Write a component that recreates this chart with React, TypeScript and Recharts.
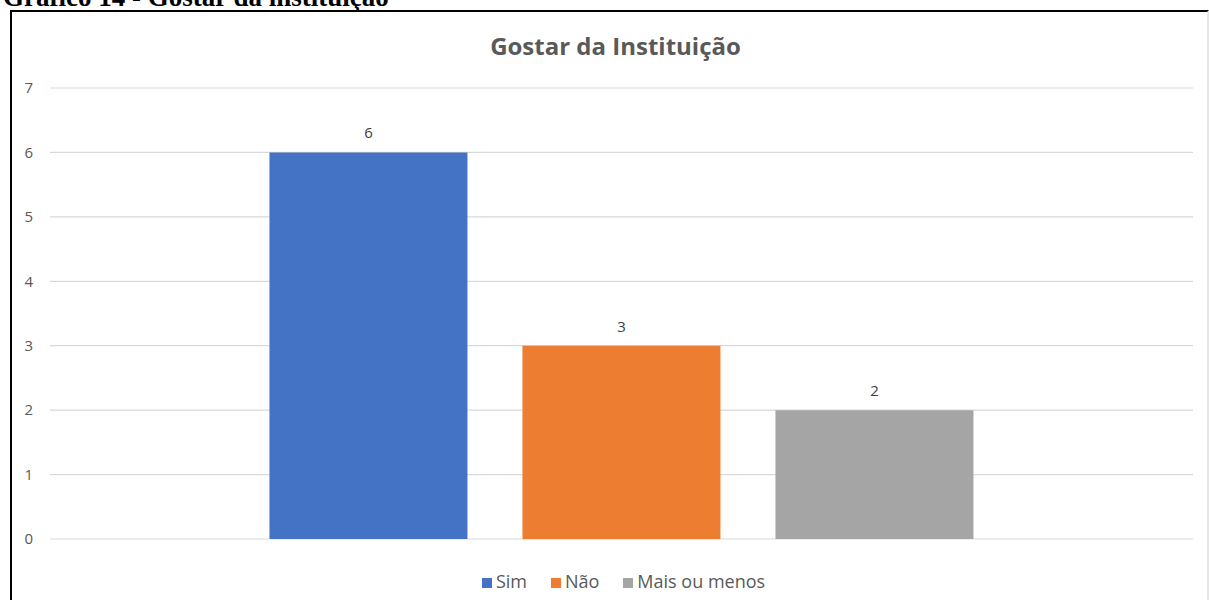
import React from "react";
import { BarChart, Bar, XAxis, YAxis, CartesianGrid, Legend, LabelList } from "recharts";

// values
const categories = ["Gostar da Instituição"];
const seriesNames = ["Sim", "Não", "Mais ou menos"];
const seriesKeys = ["sim", "nao", "mais"];
const seriesValues = [6, 3, 2];
const seriesColors = ["#4472C4", "#ED7D31", "#A5A5A5"];
const yTicks = [0, 1, 2, 3, 4, 5, 6, 7];

const data = categories.map((c) => {
  const row: Record<string, string | number> = { name: c };
  seriesKeys.forEach((k, i) => {
    row[k] = seriesValues[i];
  });
  return row;
});

const FONT = "'Open Sans', 'Noto Sans', sans-serif";
const GRAY = "#595959";

export default function App() {
  return (
    <div style={{ position: "fixed", left: 0, top: 0, width: 1209, height: 600, background: "#fff", overflow: "hidden" }}>
      {/* document caption, cut off at the top of the page */}
      <div
        style={{
          position: "absolute",
          left: 3,
          top: -18,
          fontFamily: "'Liberation Serif', 'Times New Roman', serif",
          fontWeight: 700,
          fontSize: 27,
          color: "#000",
          whiteSpace: "nowrap",
        }}
      >
        Gráfico 14 - Gostar da instituição
      </div>
      <div
        style={{
          position: "absolute",
          left: 10,
          top: 10,
          width: 1195,
          height: 600,
          borderLeft: "2px solid #000",
          borderTop: "2px solid #000",
          borderRight: "2px solid #e6e6e6",
        }}
      >
        <div
          style={{
            position: "absolute",
            left: 0,
            right: 0,
            top: 17,
            textAlign: "center",
            fontFamily: FONT,
            fontWeight: 700,
            fontSize: 24,
            color: GRAY,
            paddingLeft: 12,
          }}
        >
          Gostar da Instituição
        </div>
        <BarChart
          width={1195}
          height={588}
          data={data}
          margin={{ top: 76, right: 14, bottom: 61, left: 8 }}
          barCategoryGap="19.2%"
          barGap={55}
        >
          <CartesianGrid vertical={false} stroke="#d9d9d9" strokeWidth={1.2} />
          <XAxis dataKey="name" hide />
          <YAxis
            width={30}
            domain={[0, 7]}
            ticks={yTicks}
            axisLine={false}
            tickLine={false}
            tickSize={0}
            tickMargin={17}
            tick={{ fontSize: 15, fill: GRAY, fontFamily: FONT }}
          />
          <Legend
            verticalAlign="middle"
            align="center"
            iconType="square"
            iconSize={10}
            itemSorter={(item: any) => seriesNames.indexOf(item.value)}
            wrapperStyle={{ top: 557, left: 26, width: 1195, fontFamily: FONT, fontSize: 18 }}
            formatter={(value) => (
              <span style={{ color: GRAY, marginRight: 14 }}>{value}</span>
            )}
          />
          {seriesKeys.map((k, i) => (
            <Bar key={k} dataKey={k} name={seriesNames[i]} fill={seriesColors[i]} isAnimationActive={false}>
              <LabelList
                dataKey={k}
                position="top"
                offset={14}
                style={{ fontSize: 15, fill: "#404040", fontFamily: FONT }}
              />
            </Bar>
          ))}
        </BarChart>
      </div>
    </div>
  );
}
